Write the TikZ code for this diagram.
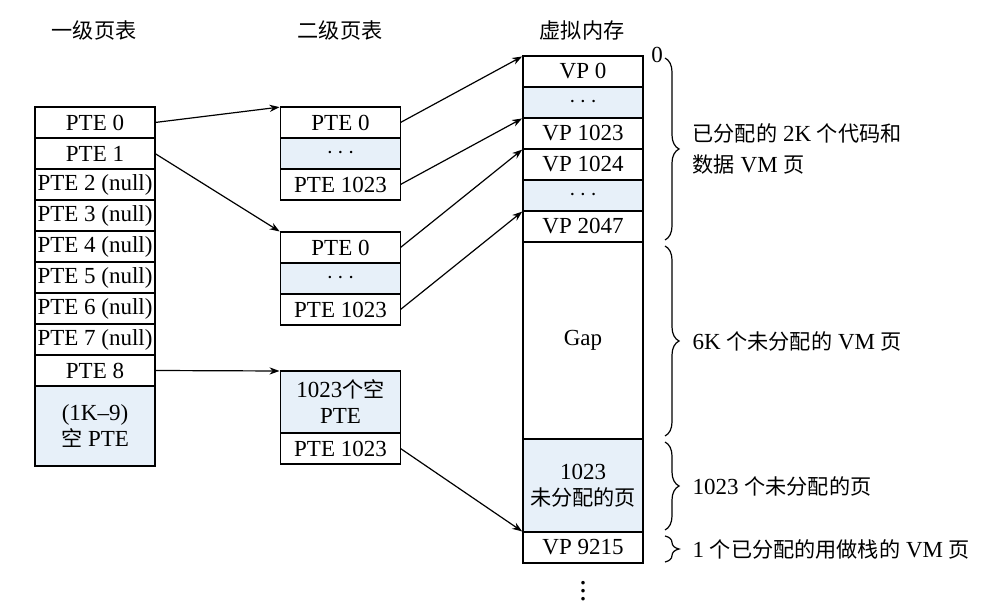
\documentclass[tikz,border=0pt]{standalone}
\usepackage{fontspec}
\setmainfont{Liberation Serif}
\newfontfamily\zhfont[Scale=0.92]{Noto Sans CJK SC}
\newcommand{\zh}[1]{{\zhfont #1}}
\usetikzlibrary{positioning,arrows.meta,decorations.pathreplacing}
\definecolor{cellblue}{RGB}{231,240,249}

\begin{document}
\begin{tikzpicture}[
    x=0.5pt, y=-0.5pt,
    node distance=0pt,
    cell/.style={rectangle, draw, line width=0.6pt, minimum width=60pt,
                 minimum height=15.5pt, inner sep=0pt, outer sep=0pt,
                 align=center, font=\fontsize{11.5}{13}\selectfont},
    blank/.style={cell, fill=cellblue},
    arrow/.style={-{Stealth[length=5pt,width=3.6pt]}, line width=0.6pt, shorten >=0.5pt},
    brc/.style={decorate, decoration={brace, amplitude=7pt, aspect=0.5}, line width=0.6pt},
    lbl/.style={font=\fontsize{11.5}{15.5}\selectfont, anchor=west, inner sep=0pt, align=left},
    title/.style={font=\zhfont\fontsize{11.5}{13}\selectfont}
]
\useasboundingbox (0,0) rectangle (983,608);

%% ── Titles ───────────────────────────────────────────────────────
\node[title] (t1) at (94,30)  {一级页表};
\node[title] (t2) at (340,30) {二级页表};
\node[title] (t3) at (582,30) {虚拟内存};

%% ── Level-1 page table ───────────────────────────────────────────
\node[cell] (l0) at (95,122.5) {PTE 0};
\node[cell, below=of l0] (l1) {PTE 1};
\node[cell, below=of l1] (l2) {PTE 2 (null)};
\node[cell, below=of l2] (l3) {PTE 3 (null)};
\node[cell, below=of l3] (l4) {PTE 4 (null)};
\node[cell, below=of l4] (l5) {PTE 5 (null)};
\node[cell, below=of l5] (l6) {PTE 6 (null)};
\node[cell, below=of l6] (l7) {PTE 7 (null)};
\node[cell, below=of l7] (l8) {PTE 8};
\node[blank, below=of l8, minimum height=40pt] (lrest) {(1K--9)\\\zh{空} PTE};

%% ── Level-2 page tables ──────────────────────────────────────────
\node[cell] (s0) at (340.5,122.5) {PTE 0};
\node[blank, below=of s0] (s0d) {$\cdots$};
\node[cell, below=of s0d] (s0e) {PTE 1023};

\node[cell] (s1) at (340.5,247.5) {PTE 0};
\node[blank, below=of s1] (s1d) {$\cdots$};
\node[cell, below=of s1d] (s1e) {PTE 1023};

\node[blank, minimum height=31pt] (s2) at (340.5,402) {1023\zh{个空}\\PTE};
\node[cell, below=of s2] (s2e) {PTE 1023};

%% ── Virtual memory ───────────────────────────────────────────────
\node[cell] (v0) at (583,71.5) {VP 0};
\node[blank, below=of v0] (vd0) {$\cdots$};
\node[cell, below=of vd0] (v1023) {VP 1023};
\node[cell, below=of v1023] (v1024) {VP 1024};
\node[blank, below=of v1024] (vd1) {$\cdots$};
\node[cell, below=of vd1] (v2047) {VP 2047};
\node[cell, below=of v2047, minimum height=98.5pt] (gap) {Gap};
\node[blank, below=of gap, minimum height=46.5pt] (vfree) {1023\\\zh{未分配的页}};
\node[cell, below=of vfree] (v9215) {VP 9215};
\node[below=3pt of v9215, inner sep=0pt, font=\fontsize{15}{15}\selectfont] (vmore) {$\vdots$};

\node[lbl] (zero) at (651,55) {0};

%% ── Arrows ───────────────────────────────────────────────────────
\draw[arrow] (l0.east)  -- (s0.north west);
\draw[arrow] (l1.east)  -- (s1.north west);
\draw[arrow] (l8.east)  -- (s2.north west);
\draw[arrow] (s0.east)  -- (v0.north west);
\draw[arrow] (s0e.east) -- (v1023.north west);
\draw[arrow] (s1.east)  -- (v1024.north west);
\draw[arrow] (s1e.east) -- (v2047.north west);
\draw[arrow] (s2e.east) -- (v9215.north west);

%% ── Braces ───────────────────────────────────────────────────────
\draw[brc] ([xshift=11pt,yshift=-1pt]v0.north east) -- ([xshift=11pt,yshift=1pt]v2047.south east)
    node[lbl, midway, xshift=13.5pt] (alloc) {\zh{已分配的} 2K \zh{个代码和}\\\zh{数据} VM \zh{页}};
\draw[brc] ([xshift=11pt,yshift=-2pt]gap.north east) -- ([xshift=11pt,yshift=1.5pt]gap.south east)
    node[lbl, midway, xshift=13.5pt] (unalloc) {6K \zh{个未分配的} VM \zh{页}};
\draw[brc] ([xshift=11pt,yshift=-1.5pt]vfree.north east) -- ([xshift=11pt,yshift=1pt]vfree.south east)
    node[lbl, midway, xshift=13.5pt] (free) {1023 \zh{个未分配的页}};
\draw[brc] ([xshift=11pt,yshift=-2pt]v9215.north east) -- ([xshift=11pt,yshift=0.5pt]v9215.south east)
    node[lbl, midway, xshift=13.5pt] (stack) {1 \zh{个已分配的用做栈的} VM \zh{页}};
\end{tikzpicture}
\end{document}
